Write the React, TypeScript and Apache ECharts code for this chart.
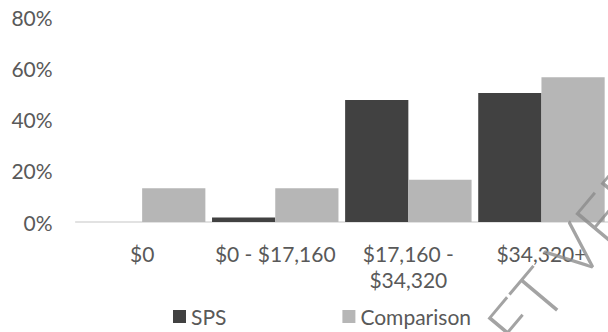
import React, { useEffect, useRef } from "react";
import * as echarts from "echarts";

const categories = ["$0", "$0 - $17,160", "$17,160 -\n$34,320", "$34,320+"];
const seriesNames = ["SPS", "Comparison"];
const spsValues = [0, 1.8, 47.7, 50.4];
const comparisonValues = [13.2, 13.2, 16.5, 56.6];
const yTicks = { min: 0, max: 80, interval: 20 };
const watermarkText = "DRAFT VERSION";

const FONT = "Lato, 'Open Sans', sans-serif";
const TEXT_COLOR = "#595959";

export default function App() {
  const ref = useRef<HTMLDivElement>(null);
  useEffect(() => {
    if (!ref.current) return;
    const chart = echarts.init(ref.current, null, { renderer: "svg" });
    chart.setOption({
      animation: false,
      backgroundColor: "#ffffff",
      grid: { left: 75.6, right: -6.3, top: 17.3, bottom: 110, containLabel: false },
      xAxis: {
        type: "category",
        data: categories,
        axisLine: { show: true, lineStyle: { color: "#d9d9d9", width: 1.5 } },
        axisTick: { show: false },
        axisLabel: {
          interval: 0,
          hideOverlap: false,
          color: TEXT_COLOR,
          fontFamily: FONT,
          fontSize: 21,
          lineHeight: 26,
          margin: 18,
        },
      },
      yAxis: {
        type: "value",
        min: yTicks.min,
        max: yTicks.max,
        interval: yTicks.interval,
        axisLine: { show: false },
        axisTick: { show: false },
        splitLine: { show: false },
        axisLabel: {
          formatter: "{value}%",
          color: TEXT_COLOR,
          fontFamily: FONT,
          fontSize: 21,
          margin: 23,
        },
      },
      legend: {
        data: seriesNames,
        left: 168,
        top: 301,
        icon: "rect",
        itemWidth: 13,
        itemHeight: 13,
        itemGap: 116,
        textStyle: { color: TEXT_COLOR, fontFamily: FONT, fontSize: 21 },
      },
      series: [
        {
          name: seriesNames[0],
          type: "bar",
          data: spsValues,
          itemStyle: { color: "#414141" },
          barGap: "0%",
          barCategoryGap: "5%",
        },
        {
          name: seriesNames[1],
          type: "bar",
          data: comparisonValues,
          itemStyle: { color: "#b6b6b6" },
          barGap: "0%",
          barCategoryGap: "5%",
        },
      ],
      graphic: [
        {
          type: "text",
          x: 411,
          y: 443,
          rotation: (50 * Math.PI) / 180,
          silent: true,
          z: 100,
          style: {
            text: watermarkText,
            fontSize: 68,
            fontFamily: "Lato",
            fontWeight: 300,
            fill: "rgba(140,140,140,0.8)",
            align: "left",
            verticalAlign: "middle",
          },
        },
      ],
    });
    return () => chart.dispose();
  }, []);
  return (
    <div
      ref={ref}
      style={{ position: "fixed", left: 0, top: 0, width: 608, height: 332, overflow: "hidden" }}
    />
  );
}
